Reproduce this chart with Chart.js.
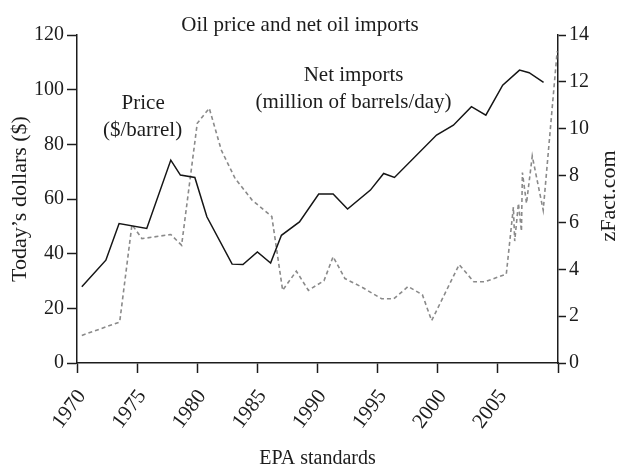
<!DOCTYPE html>
<html>
<head>
<meta charset="utf-8">
<title>Oil price and net oil imports</title>
<script src="https://cdn.jsdelivr.net/npm/chart.js@4.4.1/dist/chart.umd.min.js"></script>
<style>
  html, body { margin: 0; padding: 0; background: #fff; }
  #wrap { width: 618px; height: 467px; }
</style>
</head>
<body>
<div id="wrap"><canvas id="chart" width="618" height="467"></canvas></div>
<script>
// Net oil imports (million barrels/day), right axis
const importYears = [1970.4, 1972.4, 1973.5, 1975.8, 1977.8, 1978.6, 1979.8, 1980.8, 1982.9, 1983.8,
  1985.0, 1986.1, 1987.0, 1988.5, 1990.1, 1991.3, 1992.5, 1994.4, 1995.5, 1996.4,
  1999.9, 2001.3, 2002.8, 2004.0, 2005.4, 2006.8, 2007.6, 2008.8];
const importValues = [3.25, 4.39, 5.95, 5.74, 8.66, 8.02, 7.92, 6.24, 4.22, 4.20,
  4.74, 4.27, 5.45, 6.02, 7.21, 7.21, 6.57, 7.38, 8.09, 7.92,
  9.73, 10.15, 10.94, 10.58, 11.86, 12.50, 12.39, 11.98];

// Oil price (today's dollars per barrel), left axis
const priceYears = [1970.4, 1973.55, 1974.57, 1975.4, 1977.8, 1978.7, 1980.0, 1981.0, 1982.0, 1983.15,
  1984.56, 1986.2, 1987.1, 1988.24, 1989.24, 1990.54, 1991.3, 1992.28, 1993.67, 1995.33,
  1996.35, 1997.54, 1998.72, 1999.49, 2001.78, 2003.0, 2003.9, 2005.7, 2006.29, 2006.4,
  2006.71, 2006.96, 2007.04, 2007.38, 2007.86, 2008.77, 2009.93];
const priceValues = [10.1, 15.0, 50.6, 45.5, 47.0, 43.1, 87.7, 93.2, 77.9, 67.5,
  59.6, 53.6, 26.6, 33.6, 26.6, 30.1, 38.9, 30.9, 27.8, 23.5,
  23.5, 28.0, 25.0, 15.5, 36.0, 29.7, 29.7, 32.5, 57.0, 44.6,
  58.4, 48.2, 69.7, 58.4, 75.7, 55.9, 114.0];

const INK = '#1c1c1c';
const SERIF = '"Liberation Serif", "Times New Roman", serif';

// inline labels, anchored in axis units (year, left-axis dollars)
const notes = [
  { text: 'Price', year: 1975.5, value: 92.9 },
  { text: '($/barrel)', year: 1975.45, value: 83.0 },
  { text: 'Net imports', year: 1993.0, value: 103.2 },
  { text: '(million of barrels/day)', year: 1993.0, value: 93.2 }
];

const textPlugin = {
  id: 'inlineText',
  afterDraw(chart) {
    const { ctx } = chart;
    const x = chart.scales.x, y = chart.scales.y;
    ctx.save();
    ctx.fillStyle = INK;
    ctx.font = '21px ' + SERIF;
    ctx.textAlign = 'center';
    ctx.textBaseline = 'alphabetic';
    ctx.fillText('Oil price and net oil imports', 300, 31);
    notes.forEach(n => ctx.fillText(n.text, x.getPixelForValue(n.year), y.getPixelForValue(n.value)));
    ctx.translate(609, 196);
    ctx.rotate(-Math.PI / 2);
    ctx.textBaseline = 'middle';
    ctx.font = '22px ' + SERIF;
    ctx.fillText('zFact.com', 0, 0);
    ctx.restore();
  }
};

const tickFont = { family: SERIF, size: 20 };
const axisLine = { color: INK, width: 1.5 };

new Chart(document.getElementById('chart'), {
  type: 'line',
  data: {
    datasets: [
      {
        label: 'Net imports',
        data: importYears.map((yr, i) => ({ x: yr, y: importValues[i] })),
        yAxisID: 'y1',
        borderColor: '#151515',
        borderWidth: 1.5,
        pointRadius: 0,
        tension: 0
      },
      {
        label: 'Price',
        data: priceYears.map((yr, i) => ({ x: yr, y: priceValues[i] })),
        yAxisID: 'y',
        borderColor: '#8a8a8a',
        borderWidth: 1.6,
        borderDash: [4, 3],
        pointRadius: 0,
        tension: 0
      }
    ]
  },
  options: {
    responsive: false,
    animation: false,
    layout: { padding: { top: 35, left: 0, right: 0, bottom: 0 } },
    plugins: {
      legend: { display: false },
      tooltip: { enabled: false },
      title: { display: false }
    },
    scales: {
      x: {
        type: 'linear',
        min: 1970,
        max: 2010,
        afterFit: s => { s.height = 104; },
        border: axisLine,
        grid: { drawOnChartArea: false, tickLength: 10, tickColor: INK, tickWidth: 1.5 },
        ticks: {
          stepSize: 5,
          autoSkip: false,
          minRotation: 53,
          maxRotation: 53,
          padding: 12,
          labelOffset: 5,
          color: INK,
          font: { family: SERIF, size: 21 },
          callback: v => v === 2010 ? '' : String(v)
        },
        title: {
          display: true,
          text: 'EPA standards',
          color: INK,
          font: { family: SERIF, size: 20, lineHeight: 0.8 },
          padding: 0
        }
      },
      y: {
        position: 'left',
        min: 0,
        max: 120,
        afterFit: s => { s.width = 77; },
        border: axisLine,
        grid: { drawOnChartArea: false, tickLength: 10, tickColor: INK, tickWidth: 1.5 },
        ticks: { stepSize: 20, padding: 3, color: INK, font: tickFont },
        title: {
          display: true,
          text: 'Today\u2019s dollars ($)',
          color: INK,
          font: { family: SERIF, size: 22, lineHeight: 1.2 },
          padding: { top: 7, bottom: 0 }
        }
      },
      y1: {
        position: 'right',
        min: 0,
        max: 14,
        afterFit: s => { s.width = 60; },
        border: axisLine,
        grid: { drawOnChartArea: false, tickLength: 8, tickColor: INK, tickWidth: 1.5 },
        ticks: { stepSize: 2, padding: 3, color: INK, font: tickFont }
      }
    }
  },
  plugins: [textPlugin]
});
</script>
</body>
</html>
